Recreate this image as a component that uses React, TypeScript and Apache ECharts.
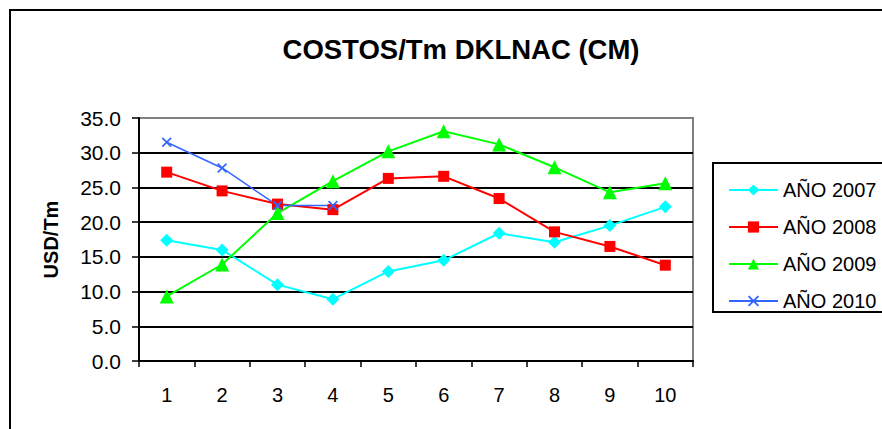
import React, { useEffect, useRef } from "react";
import * as echarts from "echarts";

const categories = ["1", "2", "3", "4", "5", "6", "7", "8", "9", "10"];
const seriesNames = ["AÑO 2007", "AÑO 2008", "AÑO 2009", "AÑO 2010"];
const values2007 = [17.4, 16.0, 11.0, 8.9, 12.9, 14.5, 18.4, 17.1, 19.5, 22.2];
const values2008 = [27.2, 24.5, 22.6, 21.8, 26.3, 26.6, 23.4, 18.6, 16.5, 13.8];
const values2009 = [9.3, 13.9, 21.3, 25.9, 30.2, 33.1, 31.2, 27.9, 24.3, 25.6];
const values2010 = [31.5, 27.8, 22.4, 22.4];
const yTicks = { min: 0, max: 35, interval: 5 };

const CROSS = "path://M0,1.2L1.2,0L5,3.8L8.8,0L10,1.2L6.2,5L10,8.8L8.8,10L5,6.2L1.2,10L0,8.8L3.8,5Z";

export default function App() {
  const ref = useRef<HTMLDivElement>(null);
  useEffect(() => {
    if (!ref.current) return;
    const chart = echarts.init(ref.current, null, { renderer: "svg" });
    const font = "'Liberation Sans', Arial, sans-serif";
    const mk = (name: string, data: number[], color: string, symbol: string, size: number, lw: number) => ({
      name,
      type: "line",
      data,
      symbol,
      symbolSize: size,
      showSymbol: true,
      itemStyle: { color, borderWidth: 0 },
      lineStyle: { color, width: lw },
      emphasis: { disabled: true },
    });
    chart.setOption({
      animation: false,
      textStyle: { fontFamily: font },
      title: {
        text: "COSTOS/Tm DKLNAC (CM)",
        left: 456,
        textAlign: "center",
        top: 30,
        textStyle: { fontFamily: font, fontSize: 27.5, fontWeight: "bold", color: "#000" },
      },
      graphic: [
        {
          type: "rect",
          shape: { x: 10, y: 10, width: 1000, height: 600 },
          style: { fill: "none", stroke: "#000", lineWidth: 2 },
          silent: true,
          z: -1,
        },
        {
          type: "rect",
          shape: { x: 713, y: 163, width: 300, height: 149 },
          style: { fill: "#fff", stroke: "#000", lineWidth: 2 },
          silent: true,
          z: -1,
        },
      ],
      legend: {
        orient: "vertical",
        left: 723,
        top: 174,
        itemWidth: 49,
        itemHeight: 14,
        itemGap: 15,
        data: seriesNames,
        textStyle: { fontFamily: font, fontSize: 20, color: "#000", lineHeight: 22 },
        selectedMode: false,
      },
      grid: {
        left: 139,
        top: 118,
        width: 554,
        height: 243,
        show: true,
        borderColor: "#808080",
        borderWidth: 2,
        containLabel: false,
      },
      xAxis: {
        type: "category",
        data: categories,
        boundaryGap: true,
        axisLine: { lineStyle: { color: "#000", width: 2 } },
        axisTick: { show: true, length: 6, inside: false, lineStyle: { color: "#000", width: 1.5 } },
        axisLabel: { fontFamily: font, fontSize: 20, color: "#000", margin: 24 },
        splitLine: { show: false },
      },
      yAxis: {
        type: "value",
        min: yTicks.min,
        max: yTicks.max,
        interval: yTicks.interval,
        name: "USD/Tm",
        nameLocation: "middle",
        nameGap: 78,
        nameTextStyle: { fontFamily: font, fontSize: 20, fontWeight: "bold", color: "#000" },
        axisLine: { show: true, lineStyle: { color: "#000", width: 2 } },
        axisTick: { show: true, length: 7, lineStyle: { color: "#000", width: 1.5 } },
        axisLabel: {
          fontFamily: font,
          fontSize: 21,
          color: "#000",
          margin: 18,
          formatter: (v: number) => v.toFixed(1),
        },
        splitLine: {
          show: true,
          lineStyle: {
            color: ["#000", "#000", "#000", "#000", "#000", "#000", "#000", "#808080"],
            width: 2,
          },
        },
      },
      series: [
        mk(seriesNames[0], values2007, "#00FFFF", "diamond", 13, 2),
        mk(seriesNames[1], values2008, "#FF0000", "rect", 11, 2),
        mk(seriesNames[2], values2009, "#00FF00", "triangle", 14, 2),
        mk(seriesNames[3], values2010, "#3366FF", CROSS, 10, 1.5),
      ],
    });
    return () => chart.dispose();
  }, []);
  return (
    <div
      ref={ref}
      style={{ position: "absolute", left: 0, top: 0, width: 882, height: 429, background: "#fff" }}
    />
  );
}
